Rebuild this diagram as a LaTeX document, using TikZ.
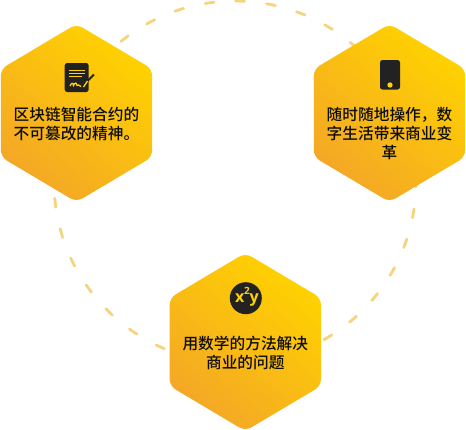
\documentclass[tikz,border=0pt]{standalone}
\usepackage{fontspec}
\setmainfont{Noto Sans CJK SC Medium}
\setsansfont{Open Sans}
\definecolor{hexlo}{HTML}{F4A726}
\definecolor{hexhi}{HTML}{FFD200}
\definecolor{ringc}{HTML}{F5D47C}
\definecolor{inkc}{HTML}{222222}
\tikzset{
  hexa/.style={rounded corners=7pt, bottom color=hexlo, top color=hexhi, shading angle=-40},
  label/.style={font=\fontsize{15.7}{18.6}\selectfont, text=black!95, align=center, inner sep=0pt, text width=132pt},
  ringdash/.style={draw=ringc, line width=2.8pt, line cap=round, dash pattern=on 9pt off 22.07pt},
  iconfill/.style={fill=inkc, draw=none},
  iconline/.style={draw=hexhi, line width=1.2pt},
  glyph/.style={font=\sffamily\bfseries\fontsize{#1}{#1}\selectfont, text=hexhi, inner sep=0pt},
}
\newcommand{\hexashape}[2]{%
  \path[hexa,shift={(#1,#2)}] (0,-89) -- (75.7,-44) -- (75.7,44) -- (0,89) -- (-75.7,44) -- (-75.7,-44) -- cycle;}
\begin{document}
\begin{tikzpicture}[x=1pt,y=-1pt]
\useasboundingbox (0,0) rectangle (466,429);
\draw[ringdash] (235,182) ++(-89.8:181) arc[start angle=-89.8, end angle=90, radius=181];
\draw[ringdash] (235,182) ++(-96.65:181) arc[start angle=-96.65, end angle=-265, radius=181];
\hexashape{76.5}{113}
\hexashape{389.5}{113}
\hexashape{245.3}{342}
% icon 1
\path[iconfill, rounded corners=2.5pt] (64.7,63) rectangle (88.7,92);
\draw[iconline] (69,70.7) -- (85.3,70.7) (69,73.6) -- (85.3,73.6) (69,76.8) -- (82,76.8);
\draw[hexhi, line width=1.3pt] (70,86) .. controls (71.5,83) and (73,82) .. (73.5,85.5) .. controls (75,82.5) and (76.5,82) .. (77,85.5) .. controls (78,84.5) and (79,85) .. (81,86.5);
\draw[inkc, line width=2pt] (86.5,82) -- (94,74.5);
\draw[hexhi, line width=1.3pt] (83.5,87) -- (87.5,81);
% icon 2
\path[iconfill, rounded corners=2.5pt] (380,60) rectangle (400,89.5);
\fill[hexhi] (390,85) circle (2.7);
% icon 3
\node[circle, fill=inkc, minimum size=32pt, inner sep=0pt] (mathicon) at (245.8,298.2) {};
\node[glyph=16] (xtxt) at (239.8,298) {x};
\node[glyph=10] (twotxt) at (247,290.5) {2};
\node[glyph=16] (ytxt) at (254.2,300.5) {y};
% labels
\node[label] (t1) at (76.5,124) {区块链智能合约的\\不可篡改的精神。};
\node[label] (t2) at (389.5,133.5) {随时随地操作，数\\字生活带来商业变\\革};
\node[label] (t3) at (245.3,353) {用数学的方法解决\\商业的问题};
\end{tikzpicture}
\end{document}
